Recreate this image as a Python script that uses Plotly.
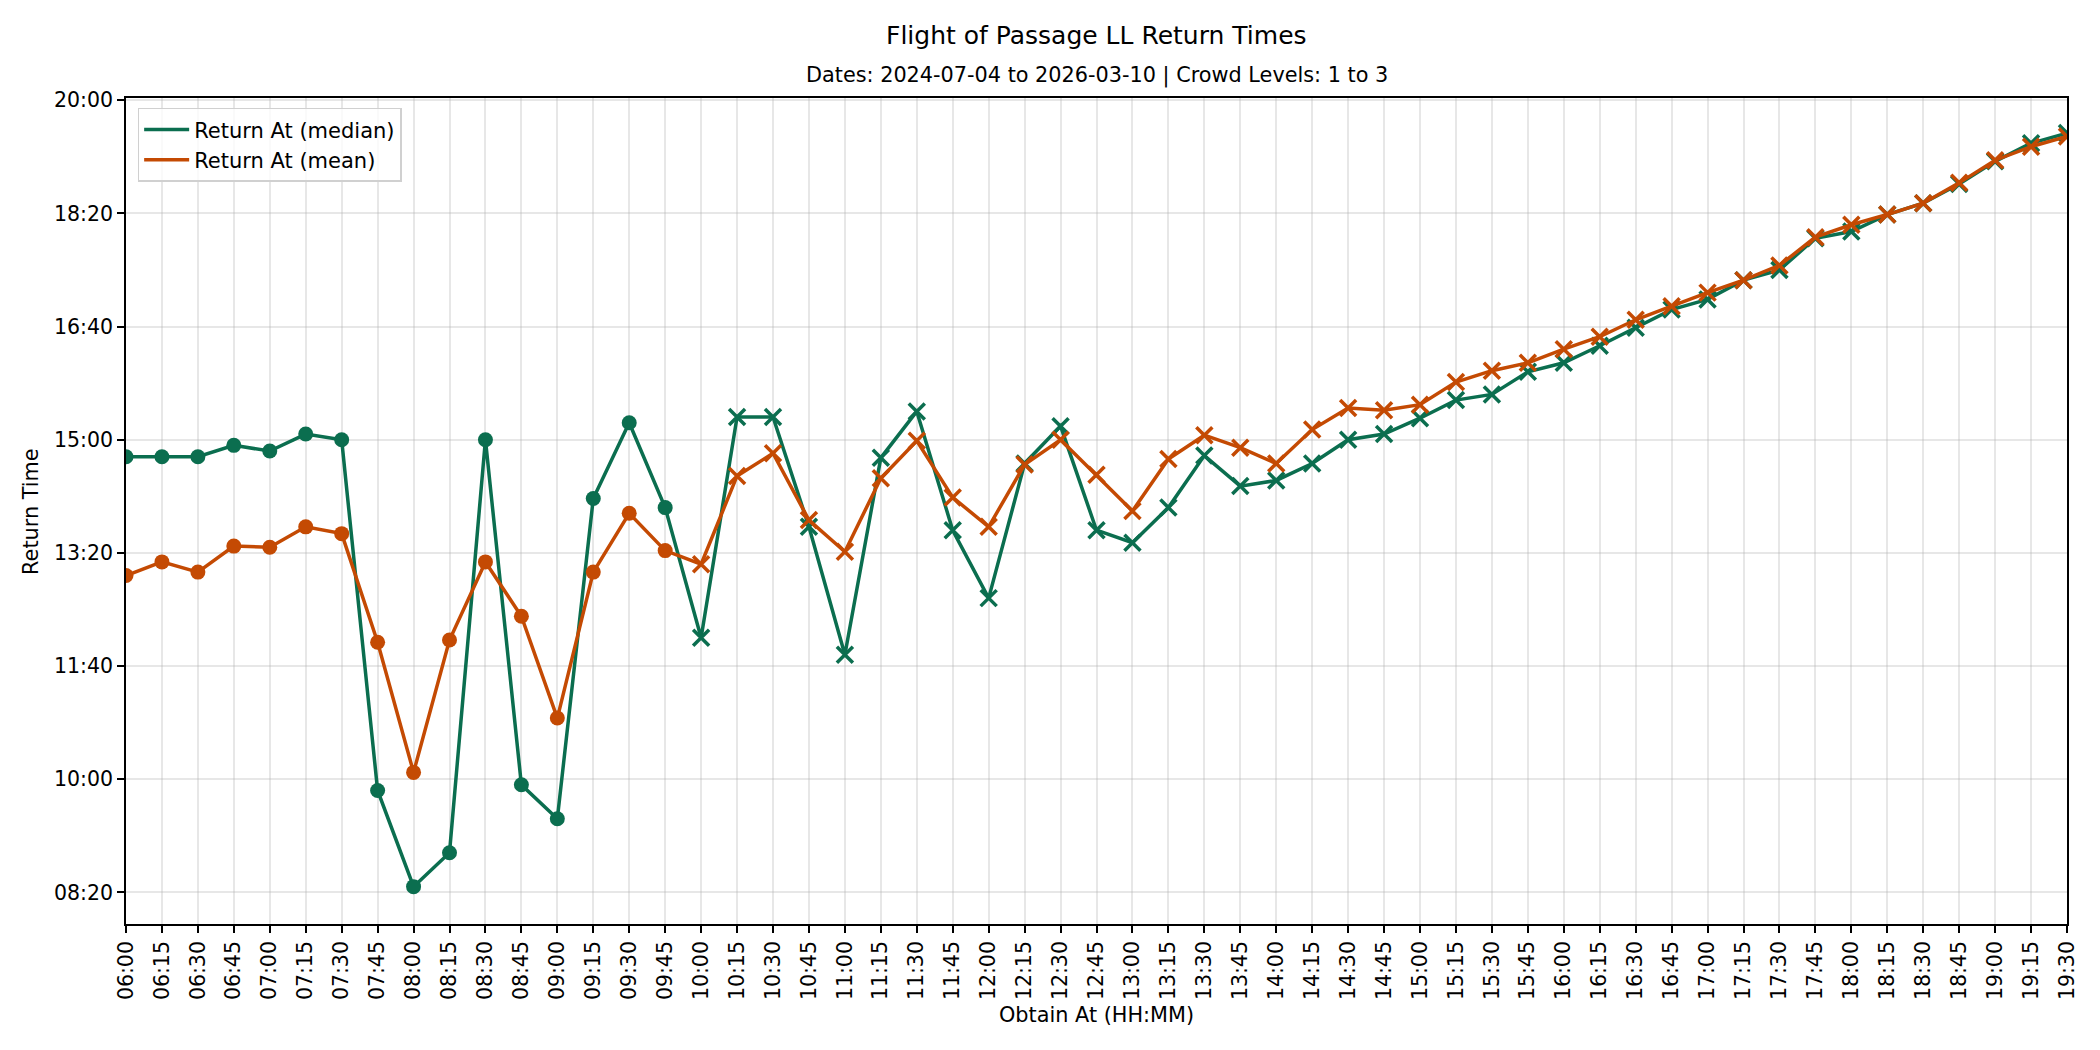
import plotly.graph_objects as go

# obtain time slots (x axis)
OBTAIN_AT = [
    "06:00", "06:15", "06:30", "06:45", "07:00", "07:15", "07:30", "07:45",
    "08:00", "08:15", "08:30", "08:45", "09:00", "09:15", "09:30", "09:45",
    "10:00", "10:15", "10:30", "10:45", "11:00", "11:15", "11:30", "11:45",
    "12:00", "12:15", "12:30", "12:45", "13:00", "13:15", "13:30", "13:45",
    "14:00", "14:15", "14:30", "14:45", "15:00", "15:15", "15:30", "15:45",
    "16:00", "16:15", "16:30", "16:45", "17:00", "17:15", "17:30", "17:45",
    "18:00", "18:15", "18:30", "18:45", "19:00", "19:15", "19:30",
]

RETURN_MEDIAN = [
    "14:45", "14:45", "14:45", "14:55", "14:50", "15:05", "15:00", "09:50",
    "08:25", "08:55", "15:00", "09:55", "09:25", "14:08", "15:15", "14:00",
    "12:05", "15:20", "15:20", "13:43", "11:50", "14:44", "15:25", "13:40",
    "12:40", "14:39", "15:12", "13:40", "13:29", "14:00", "14:46", "14:19",
    "14:24", "14:39", "15:00", "15:05", "15:19", "15:35", "15:40", "16:00",
    "16:08", "16:23", "16:39", "16:55", "17:04", "17:21", "17:30", "17:58",
    "18:04", "18:19", "18:29", "18:46", "19:06", "19:22", "19:31",
]

RETURN_MEAN = [
    "13:00", "13:12", "13:03", "13:26", "13:25", "13:43", "13:37", "12:01",
    "10:06", "12:03", "13:12", "12:24", "10:54", "13:03", "13:55", "13:22",
    "13:10", "14:28", "14:48", "13:49", "13:21", "14:26", "14:59", "14:09",
    "13:43", "14:38", "15:00", "14:29", "13:57", "14:43", "15:04", "14:53",
    "14:39", "15:09", "15:28", "15:26", "15:31", "15:51", "16:01", "16:08",
    "16:20", "16:31", "16:46", "16:58", "17:10", "17:21", "17:34", "17:59",
    "18:10", "18:19", "18:29", "18:47", "19:07", "19:19", "19:28",
]

Y_TICKS = ["08:20", "10:00", "11:40", "13:20", "15:00", "16:40", "18:20", "20:00"]

# slots before this one are drawn with dots, the rest with crosses
MARKER_SWITCH = "10:00"

TITLE = "Flight of Passage LL Return Times"
SUBTITLE = "Dates: 2024-07-04 to 2026-03-10 | Crowd Levels: 1 to 3"


def to_min(s):
    h, m = s.split(":")
    return int(h) * 60 + int(m)


x = [to_min(t) for t in OBTAIN_AT]
med = [to_min(t) for t in RETURN_MEDIAN]
mean = [to_min(t) for t in RETURN_MEAN]
cut = OBTAIN_AT.index(MARKER_SWITCH)

GREEN = "#0b6e4f"
ORANGE = "#c44a03"
FONT = "DejaVu Sans"

fig = go.Figure()

for name, ys, col in [("Return At (median)", med, GREEN), ("Return At (mean)", mean, ORANGE)]:
    fig.add_trace(go.Scatter(x=x, y=ys, mode="lines", name=name,
                             line=dict(color=col, width=3.5)))
    fig.add_trace(go.Scatter(x=x[:cut], y=ys[:cut], mode="markers", showlegend=False,
                             marker=dict(symbol="circle", size=15, color=col)))
    fig.add_trace(go.Scatter(x=x[cut:], y=ys[cut:], mode="markers", showlegend=False,
                             marker=dict(symbol="x-thin", size=16, color=col,
                                         line=dict(color=col, width=3.5))))

axis_common = dict(
    showline=True, linecolor="black", linewidth=1.7, mirror=True,
    ticks="outside", ticklen=7, tickwidth=1.6, tickcolor="black",
    showgrid=True, gridcolor="rgba(176,176,176,0.3)", gridwidth=1.5,
    zeroline=False, tickfont=dict(family=FONT, size=20.5, color="black"),
)

fig.update_xaxes(range=[x[0], x[-1]], tickvals=x, ticktext=OBTAIN_AT,
                 tickangle=-90, **axis_common)
fig.update_yaxes(range=[472, 1202], tickvals=[to_min(t) for t in Y_TICKS],
                 ticktext=Y_TICKS, **axis_common)

fig.update_layout(
    width=2100, height=1050,
    margin=dict(l=126, r=33, t=98, b=126),
    plot_bgcolor="white", paper_bgcolor="white",
    font=dict(family=FONT, size=20, color="black"),
    showlegend=True,
    legend=dict(x=0.006, y=0.988, xanchor="left", yanchor="top",
                bgcolor="rgba(255,255,255,0.8)", bordercolor="#d0d0d0", borderwidth=1.5,
                font=dict(family=FONT, size=21), itemwidth=45, tracegroupgap=4),
    annotations=[
        dict(text=TITLE, x=0.5, y=1.076, xref="paper", yref="paper",
             showarrow=False, font=dict(family=FONT, size=25), yanchor="middle"),
        dict(text=SUBTITLE, x=0.5, y=1.027, xref="paper", yref="paper",
             showarrow=False, font=dict(family=FONT, size=20.8), yanchor="middle"),
        dict(text="Obtain At (HH:MM)", x=0.5, y=-0.11, xref="paper", yref="paper",
             showarrow=False, font=dict(family=FONT, size=20.8), yanchor="middle"),
        dict(text="Return Time", x=-0.049, y=0.5, xref="paper", yref="paper",
             showarrow=False, font=dict(family=FONT, size=20.8), textangle=-90,
             xanchor="center", yanchor="middle"),
    ],
)

# drop the page's default body margin so the figure sits at the window origin
fig.write_html("out.html", config={"displayModeBar": False},
               post_script="document.body.style.margin='0';")
